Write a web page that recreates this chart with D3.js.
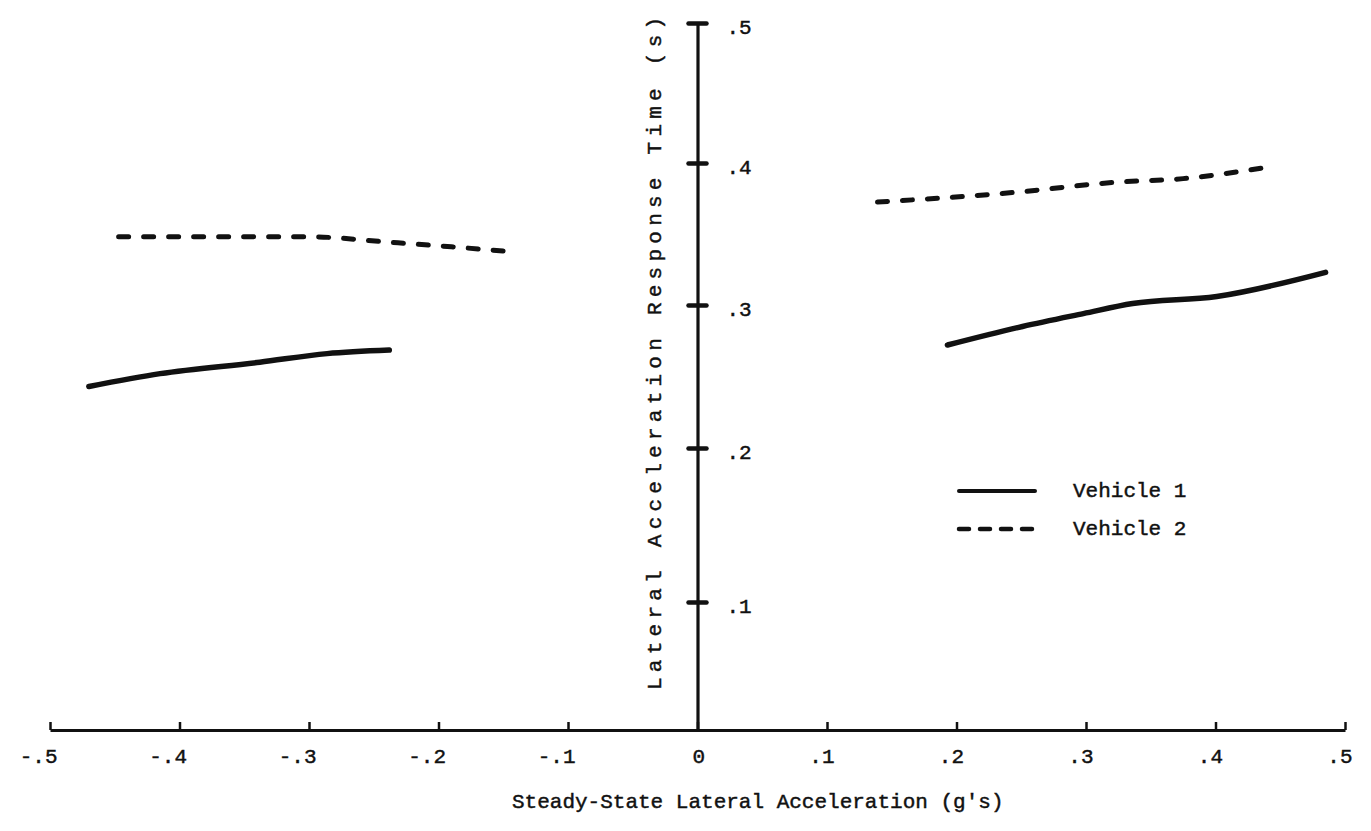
<!DOCTYPE html>
<html>
<head>
<meta charset="utf-8">
<script src="https://cdn.jsdelivr.net/npm/d3@7"></script>
<style>
  html, body { margin: 0; padding: 0; background: #fff; }
  svg { display: block; }
  text { font-family: "Liberation Mono", "DejaVu Sans Mono", monospace; fill: #111; stroke: #111; stroke-width: 0.45px; }
</style>
</head>
<body>
<svg id="chart" width="1371" height="831"></svg>
<script>
// ---------- data ----------
const xTicks = [-0.5, -0.4, -0.3, -0.2, -0.1, 0, 0.1, 0.2, 0.3, 0.4, 0.5];
const xTickLabels = ["-.5", "-.4", "-.3", "-.2", "-.1", "0", ".1", ".2", ".3", ".4", ".5"];
const yTicks = [0.1, 0.2, 0.3, 0.4, 0.5];
const yTickLabels = [".1", ".2", ".3", ".4", ".5"];

const xTitle = "Steady-State Lateral Acceleration (g's)";
const yTitle = "Lateral Acceleration Response Time (s)";
const seriesNames = ["Vehicle 1", "Vehicle 2"];

// Vehicle 1 (solid), negative and positive lateral acceleration branches
const v1LeftX = [-0.470, -0.415, -0.338, -0.286, -0.238];
const v1LeftY = [0.243, 0.252, 0.260, 0.266, 0.2685];
const v1RightX = [0.193, 0.251, 0.298, 0.336, 0.401, 0.485];
const v1RightY = [0.272, 0.285, 0.294, 0.301, 0.306, 0.323];

// Vehicle 2 (dashed)
const v2LeftX = [-0.447, -0.370, -0.300, -0.235, -0.190, -0.150];
const v2LeftY = [0.348, 0.348, 0.348, 0.344, 0.341, 0.338];
const v2RightX = [0.139, 0.241, 0.324, 0.375, 0.440];
const v2RightY = [0.3725, 0.379, 0.3865, 0.389, 0.397];

// ---------- drawing ----------
const svg = d3.select("#chart");
const ink = "#111";

const x = d3.scaleLinear().domain([-0.5, 0.5]).range([50, 1345]);
// hand-drawn original has uneven tick spacing on the vertical axis
const y = d3.scaleLinear().domain([0, 0.1, 0.2, 0.3, 0.4, 0.5]).range([730, 602, 448, 305, 163, 23]);

// X axis
const xAxisG = svg.append("g")
  .attr("transform", `translate(0,${y(0)})`)
  .call(d3.axisBottom(x).tickValues(xTicks)
    .tickFormat((d, i) => xTickLabels[i])
    .tickSize(-8).tickSizeOuter(0).tickPadding(33));
xAxisG.select(".domain").attr("stroke", ink).attr("stroke-width", 3.2);
xAxisG.selectAll(".tick line").attr("stroke", ink).attr("stroke-width", 2.5);
xAxisG.selectAll(".tick text")
  .attr("font-size", 21)
  .attr("text-anchor", "end")
  .attr("dx", 7)
  .attr("dy", 0)
  .attr("font-family", "Liberation Mono, monospace");

// Y axis
const yAxisG = svg.append("g")
  .attr("transform", `translate(${x(0)},0)`)
  .call(d3.axisRight(y).tickValues(yTicks)
    .tickFormat((d, i) => yTickLabels[i])
    .tickSize(9).tickSizeOuter(0).tickPadding(20));
yAxisG.select(".domain").attr("stroke", ink).attr("stroke-width", 3.2);
yAxisG.selectAll(".tick line")
  .attr("x1", -9).attr("x2", 9)
  .attr("stroke", ink).attr("stroke-width", 4.5)
  .attr("stroke-linecap", "round");
yAxisG.selectAll(".tick text")
  .attr("font-size", 21)
  .attr("dy", "0.5em")
  .attr("font-family", "Liberation Mono, monospace");

// Axis titles
svg.append("text")
  .attr("x", 512).attr("y", 808)
  .attr("font-size", 21)
  .text(xTitle);

svg.append("text")
  .attr("transform", `translate(661,690) rotate(-90)`)
  .attr("font-size", 21)
  .attr("letter-spacing", 5.25)
  .text(yTitle);

// Lines
const line = d3.line()
  .x(d => x(d[0]))
  .y(d => y(d[1]))
  .curve(d3.curveMonotoneX);

const zip = (a, b) => a.map((v, i) => [v, b[i]]);

const segments = [
  { pts: zip(v1LeftX, v1LeftY), dashed: false },
  { pts: zip(v1RightX, v1RightY), dashed: false },
  { pts: zip(v2LeftX, v2LeftY), dashed: true },
  { pts: zip(v2RightX, v2RightY), dashed: true }
];

svg.append("g").selectAll("path")
  .data(segments)
  .join("path")
  .attr("d", d => line(d.pts))
  .attr("fill", "none")
  .attr("stroke", ink)
  .attr("stroke-width", d => d.dashed ? 5 : 5.5)
  .attr("stroke-linecap", "round")
  .attr("stroke-dasharray", d => d.dashed ? "10,15" : null);

// Legend
const legend = svg.append("g").attr("transform", "translate(957,491)");
seriesNames.forEach((name, i) => {
  const g = legend.append("g").attr("transform", `translate(0,${i * 38})`);
  g.append("line")
    .attr("x1", 2).attr("x2", 78)
    .attr("stroke", ink)
    .attr("stroke-width", i === 0 ? 4 : 4.5)
    .attr("stroke-linecap", "round")
    .attr("stroke-dasharray", i === 0 ? null : "10,11");
  g.append("text")
    .attr("x", 116).attr("y", 6)
    .attr("font-size", 21)
    .text(name);
});
</script>
</body>
</html>
